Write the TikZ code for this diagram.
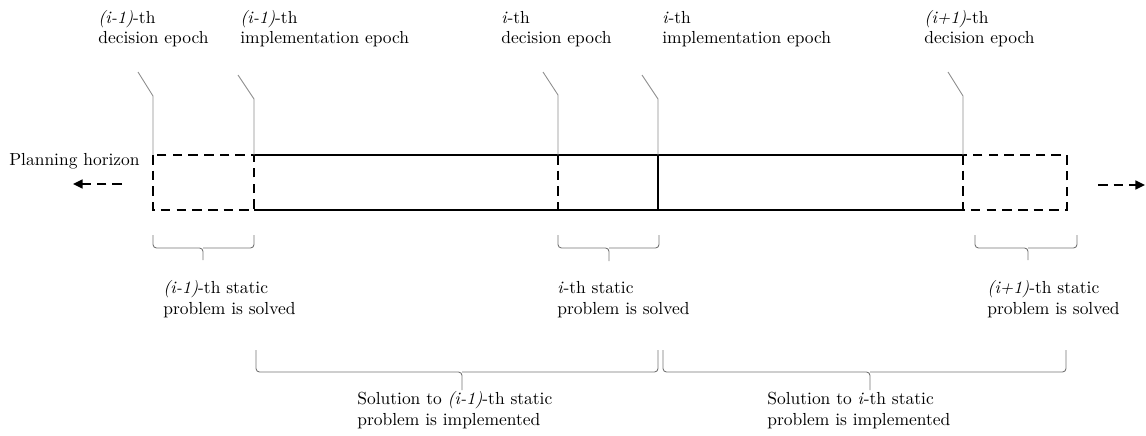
\documentclass[tikz,border=0pt]{standalone}
\usetikzlibrary{arrows.meta,positioning}

\begin{document}
\begin{tikzpicture}[x=0.5727pt,y=-0.5727pt,
    lbl/.style = {align=left, anchor=base west, inner sep=0pt},
    pointer/.style = {draw=black!45, line width=0.5pt},
    frame/.style = {line width=1.2pt},
    plan/.style = {line width=1.2pt, dash pattern=on 5.5pt off 3.5pt},
    brk/.style = {draw=black!55, line width=0.5pt, rounded corners=2pt},
    tip/.style = {-{Triangle[length=5.5pt,width=5pt]}}]
        \useasboundingbox (0,0) rectangle (1146,435);

        % epochs on the horizon (top and bottom edge)
        \coordinate (t1) at (153,155);  \coordinate (u1) at (153,210);
        \coordinate (t2) at (254,155);  \coordinate (u2) at (254,210);
        \coordinate (t3) at (558,155);  \coordinate (u3) at (558,210);
        \coordinate (t4) at (658,155);  \coordinate (u4) at (658,210);
        \coordinate (t5) at (963,155);  \coordinate (u5) at (963,210);
        \coordinate (t6) at (1067,155); \coordinate (u6) at (1067,210);

        \draw[frame] (t2) -- (t5);
        \draw[frame] (u2) -- (u5);
        \draw[frame] (t4) -- (u4);
        \draw[plan] (t1) rectangle (u2);
        \draw[plan] (t3) -- (u3);
        \draw[plan] (t5) rectangle (u6);

        \node[lbl] (hor) at (9,165) {Planning horizon};
        \coordinate (la) at (122,184); \coordinate (lb) at (73,184);
        \coordinate (ra) at (1098,185); \coordinate (rb) at (1145,185);
        \draw[plan,tip] (la) -- (lb);
        \draw[plan,tip] (ra) -- (rb);

        % labels of the epochs (base = last line)
        \node[lbl] (e1) at (98,44) {\textit{(i-1)}-th\\decision epoch};
        \node[lbl] (e2) at (240,44) {\textit{(i-1)}-th\\implementation epoch};
        \node[lbl] (e3) at (501,44) {\textit{i}-th\\decision epoch};
        \node[lbl] (e4) at (662,44) {\textit{i}-th\\implementation epoch};
        \node[lbl] (e5) at (924,44) {\textit{(i+1)}-th\\decision epoch};

        \draw[pointer] (t1) -- ++(0,-59) -- ++(-15,-24);
        \draw[pointer] (t2) -- ++(0,-56) -- ++(-16,-24);
        \draw[pointer] (t3) -- ++(0,-60) -- ++(-15,-23);
        \draw[pointer] (t4) -- ++(0,-56) -- ++(-16,-24);
        \draw[pointer] (t5) -- ++(0,-59) -- ++(-15,-24);

        % braces for the static problems
        \draw[brk] (153,235) -- (153,248) -- (203,248) -- (203,260);
        \draw[brk] (254,235) -- (254,248) -- (203,248);
        \draw[brk] (558,235) -- (558,248) -- (609,248) -- (609,261);
        \draw[brk] (659,235) -- (659,248) -- (609,248);
        \draw[brk] (975,235) -- (975,248) -- (1028,248) -- (1028,260);
        \draw[brk] (1077,235) -- (1077,248) -- (1028,248);

        \node[lbl] (s1) at (163,314) {\textit{(i-1)}-th static\\problem is solved};
        \node[lbl] (s2) at (557,314) {\textit{i}-th static\\problem is solved};
        \node[lbl] (s3) at (987,314) {\textit{(i+1)}-th static\\problem is solved};

        % braces for the implementation
        \draw[brk] (256,350) -- (256,372) -- (462,372) -- (462,390);
        \draw[brk] (658,350) -- (658,372) -- (462,372);
        \draw[brk] (663,350) -- (663,372) -- (870,372) -- (870,390);
        \draw[brk] (1066,350) -- (1066,372) -- (870,372);

        \node[lbl] (m1) at (357,425) {Solution to \textit{(i-1)}-th static\\problem is implemented};
        \node[lbl] (m2) at (767,425) {Solution to \textit{i}-th static\\problem is implemented};
\end{tikzpicture}
\end{document}
